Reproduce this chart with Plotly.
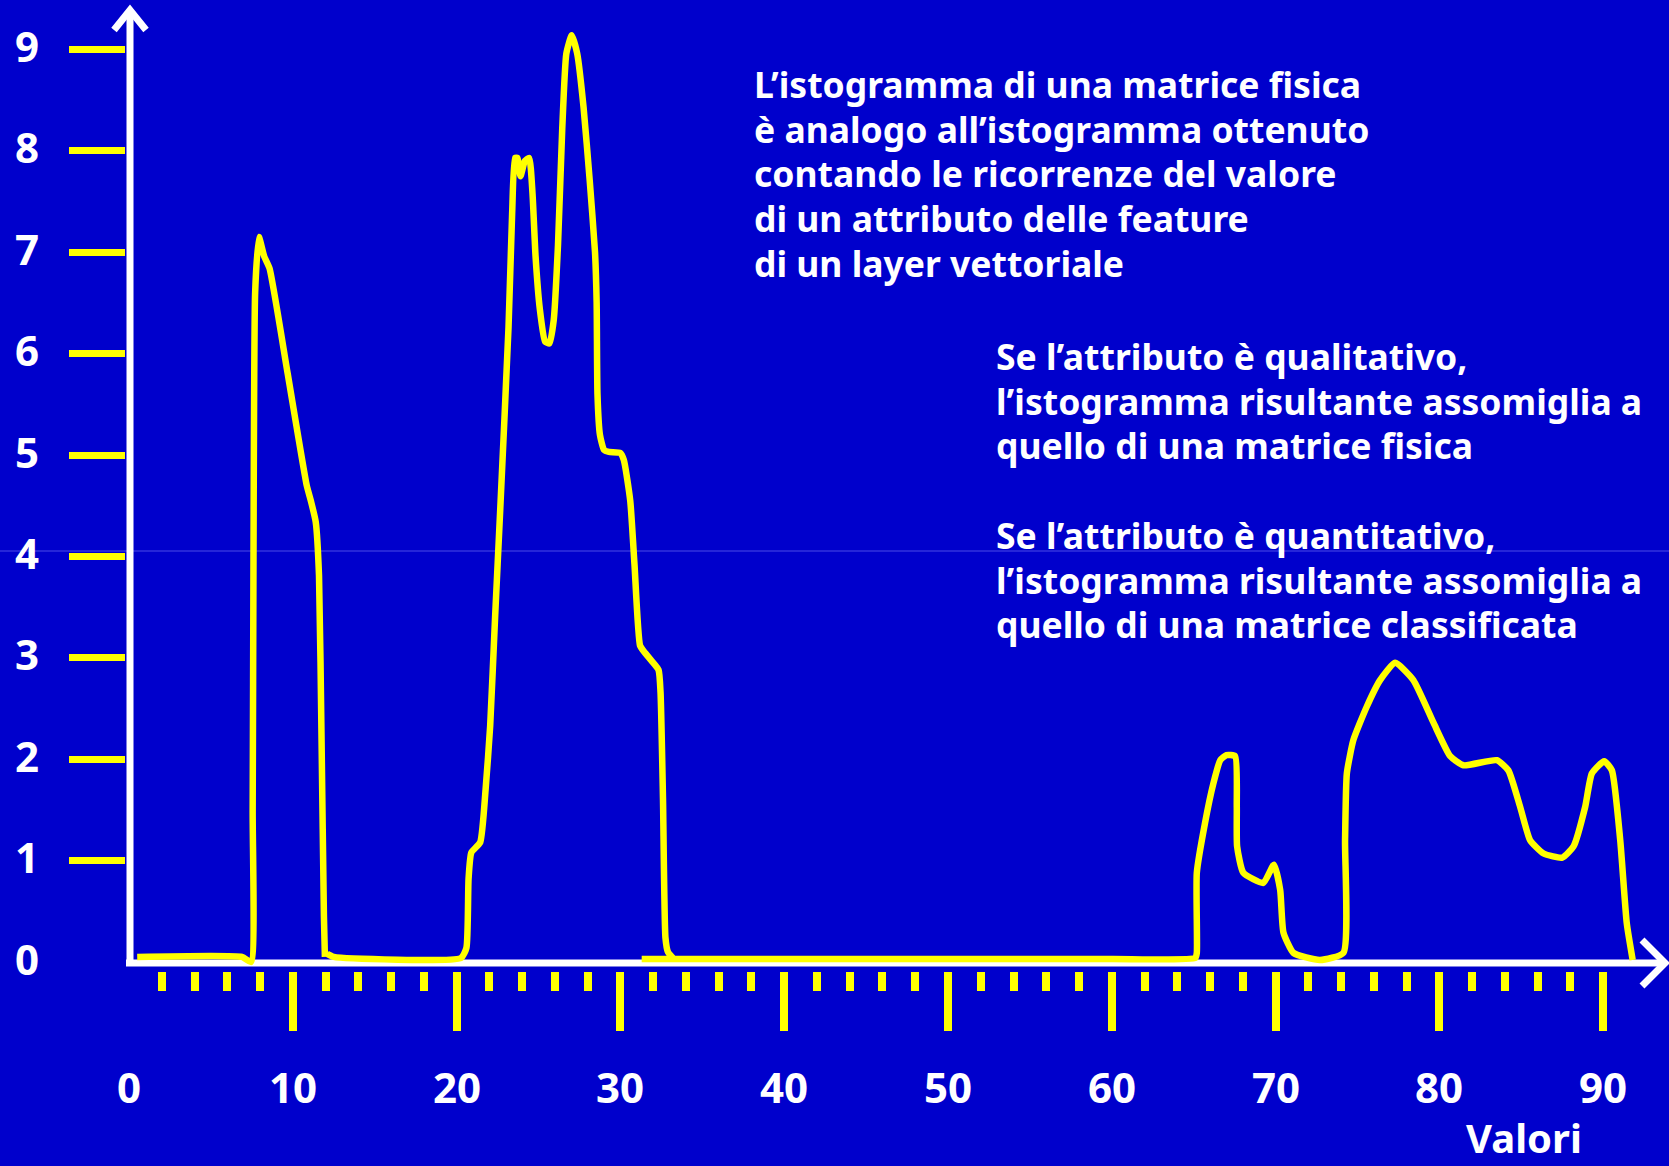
import plotly.graph_objects as go

# ---------------- data ----------------
# histogram outline, three hand-drawn strokes separated by None
curve_x = [
    0.5, 6.9, 7.45, 7.55, 7.6, 7.7, 7.93, 8.25, 8.58, 9.68, 10.85, 11.1, 11.4, 11.6, 11.76, 11.9, 11.96,
    None,
    12.1, 12.5, 20.27, 20.6, 20.73, 20.9, 21.44, 21.77, 22.05, 22.35, 22.66, 23.17, 23.39, 23.57, 23.72,
    23.9, 24.17, 24.43, 24.63, 24.82, 25.08, 25.4, 25.67, 25.93, 26.19, 26.45, 26.7, 27.03, 27.36,
    27.75, 28.13, 28.45, 28.55, 28.6, 28.75, 29.0, 29.3, 29.99, 30.21, 30.6, 30.86, 31.2, 31.45,
    31.9, 32.33, 32.45, 32.6, 32.75, 32.9, 33.2,
    None,
    31.3, 40.0, 50.0, 60.0, 65.1, 65.19, 65.19, 65.69, 66.2, 66.62, 67.0, 67.53, 67.63, 67.65, 68.03,
    69.25, 69.9, 70.28, 70.48, 71.09, 72.7, 74.14, 74.24, 74.35, 74.75, 75.57, 76.38, 77.3, 78.41,
    79.64, 80.66, 81.47, 83.5, 84.21, 84.93, 85.54, 86.36, 87.5, 88.19, 88.9, 89.31, 90.06, 90.53,
    91.04, 91.44, 91.8,
]
curve_y = [
    0.05, 0.05, 0.0, 1.5, 4.0, 6.6, 7.15, 6.96, 6.84, 5.81, 4.70, 4.55, 4.34, 3.81, 2.13, 0.45, 0.05,
    None,
    0.08, 0.05, 0.04, 0.14, 0.82, 1.08, 1.18, 1.7, 2.33, 3.4, 4.45, 6.26, 7.38, 7.93, 7.93,
    7.75, 7.9, 7.93, 7.59, 6.96, 6.44, 6.12, 6.1, 6.33, 7.07, 8.22, 8.96, 9.14, 8.96,
    8.43, 7.7, 7.0, 6.5, 5.6, 5.2, 5.05, 5.03, 5.02, 4.95, 4.55, 3.92, 3.12, 3.06,
    2.97, 2.88, 2.66, 1.61, 0.24, 0.1, 0.04,
    None,
    0.03, 0.03, 0.03, 0.03, 0.04, 0.09, 0.88, 1.37, 1.76, 1.99, 2.04, 2.03, 1.53, 1.14, 0.88,
    0.78, 0.96, 0.71, 0.29, 0.09, 0.02, 0.09, 1.2, 1.86, 2.19, 2.52, 2.78, 2.95, 2.78,
    2.36, 2.03, 1.94, 1.99, 1.89, 1.53, 1.2, 1.07, 1.03, 1.14, 1.53, 1.86, 1.98, 1.89,
    1.2, 0.38, 0.02,
]

x_major_ticks = [10, 20, 30, 40, 50, 60, 70, 80, 90]
x_minor_ticks = [v for v in range(2, 90, 2) if v % 10 != 0]
x_tick_labels = [0, 10, 20, 30, 40, 50, 60, 70, 80, 90]
y_ticks = [1, 2, 3, 4, 5, 6, 7, 8, 9]
y_tick_labels = [0, 1, 2, 3, 4, 5, 6, 7, 8, 9]
x_title = "Valori"

text_block_1 = [
    "L’istogramma di una matrice fisica",
    "è analogo all’istogramma ottenuto",
    "contando le ricorrenze del valore",
    "di un attributo delle feature",
    "di un layer vettoriale",
]
text_block_2 = [
    "Se l’attributo è qualitativo,",
    "l’istogramma risultante assomiglia a",
    "quello di una matrice fisica",
    "",
    "Se l’attributo è quantitativo,",
    "l’istogramma risultante assomiglia a",
    "quello di una matrice classificata",
]

# ---------------- layout geometry ----------------
W, H = 1669, 1166
L, R, T, B = 126, 5, 10, 195
X0_PX, PX_PER_X = 129.0, 16.38
Y0_PX, PX_PER_Y = 962.0, 101.4
x_lo = -(X0_PX - L) / PX_PER_X
x_hi = x_lo + (W - L - R) / PX_PER_X
y_lo = -((H - B) - Y0_PX) / PX_PER_Y
y_hi = (Y0_PX - T) / PX_PER_Y
LINE_STEP = 44.7  # text line spacing in px


def px(xp):
    return (xp - L) / (W - L - R)


def py(yp):
    return (H - B - yp) / (H - T - B)


BG = "#0000CC"
YEL = "#FFFF00"
WHITE = "#FFFFFF"
FONT = "Noto Sans"

fig = go.Figure()
fig.add_trace(go.Scatter(
    x=curve_x, y=curve_y, mode="lines",
    line=dict(color=YEL, width=6.5, shape="spline", smoothing=0.5),
    connectgaps=False, hoverinfo="skip", showlegend=False,
))

shapes = [
    # faint horizontal artefact line
    dict(type="line", xref="paper", yref="paper", x0=px(0), x1=px(W), y0=py(551), y1=py(551),
         line=dict(color="#4a4ae6", width=1), layer="below"),
    # y axis with arrow
    dict(type="line", xref="paper", yref="paper", x0=px(130), x1=px(130), y0=py(966), y1=py(12),
         line=dict(color=WHITE, width=7), layer="below"),
    dict(type="path", xref="paper", yref="paper",
         path=f"M{px(114)},{py(30)} L{px(130)},{py(10)} L{px(146)},{py(30)}",
         line=dict(color=WHITE, width=7), layer="below"),
    # x axis with arrow
    dict(type="line", xref="paper", yref="paper", x0=px(126), x1=px(1663), y0=py(963), y1=py(963),
         line=dict(color=WHITE, width=7), layer="below"),
    dict(type="path", xref="paper", yref="paper",
         path=f"M{px(1642)},{py(940)} L{px(1665)},{py(963)} L{px(1642)},{py(986)}",
         line=dict(color=WHITE, width=7), layer="below"),
]

annotations = []
for v in x_tick_labels:
    annotations.append(dict(x=v, xref="x", y=py(1086), yref="paper", text=f"<b>{v}</b>",
                            showarrow=False, xanchor="center", yanchor="middle",
                            font=dict(family=FONT, size=42, color=WHITE)))
for v in y_tick_labels:
    annotations.append(dict(x=px(27), xref="paper", y=v, yref="y", yshift=4, text=f"<b>{v}</b>",
                            showarrow=False, xanchor="center", yanchor="middle",
                            font=dict(family=FONT, size=42, color=WHITE)))
annotations.append(dict(x=px(1524), xref="paper", y=py(1137), yref="paper", text=f"<b>{x_title}</b>",
                        showarrow=False, xanchor="center", yanchor="middle",
                        font=dict(family=FONT, size=40, color=WHITE)))

# text blocks: one annotation per line for exact line spacing
for i, s in enumerate(text_block_1):
    if s:
        annotations.append(dict(x=px(752), xref="paper", y=py(58 + i * LINE_STEP), yref="paper",
                                text=f"<b>{s}</b>", showarrow=False, xanchor="left", yanchor="top",
                                align="left", font=dict(family=FONT, size=35.5, color=WHITE)))
for i, s in enumerate(text_block_2):
    if s:
        annotations.append(dict(x=px(994), xref="paper", y=py(330 + i * LINE_STEP), yref="paper",
                                text=f"<b>{s}</b>", showarrow=False, xanchor="left", yanchor="top",
                                align="left", font=dict(family=FONT, size=35.5, color=WHITE)))

fig.update_layout(
    width=W, height=H,
    margin=dict(l=L, r=R, t=T, b=B, pad=0),
    paper_bgcolor=BG, plot_bgcolor="rgba(0,0,0,0)",
    showlegend=False,
    shapes=shapes, annotations=annotations,
    xaxis=dict(range=[x_lo, x_hi], showgrid=False, zeroline=False, showline=False,
               tickmode="array", tickvals=x_major_ticks, ticks="outside",
               ticklen=59, tickwidth=8, tickcolor=YEL, showticklabels=False,
               minor=dict(tickmode="array", tickvals=x_minor_ticks, ticks="outside",
                          ticklen=19, tickwidth=8, tickcolor=YEL, showgrid=False),
               fixedrange=True),
    yaxis=dict(range=[y_lo, y_hi], showgrid=False, zeroline=False, showline=False,
               tickmode="array", tickvals=y_ticks, ticks="outside",
               ticklen=56, tickwidth=7, tickcolor=YEL, showticklabels=False,
               fixedrange=True),
)

fig.write_html(
    "out.html",
    config={"displayModeBar": False},
    post_script="document.body.style.margin='0';document.body.style.background='#0000CC';"
                "document.documentElement.style.overflow='hidden';",
)
